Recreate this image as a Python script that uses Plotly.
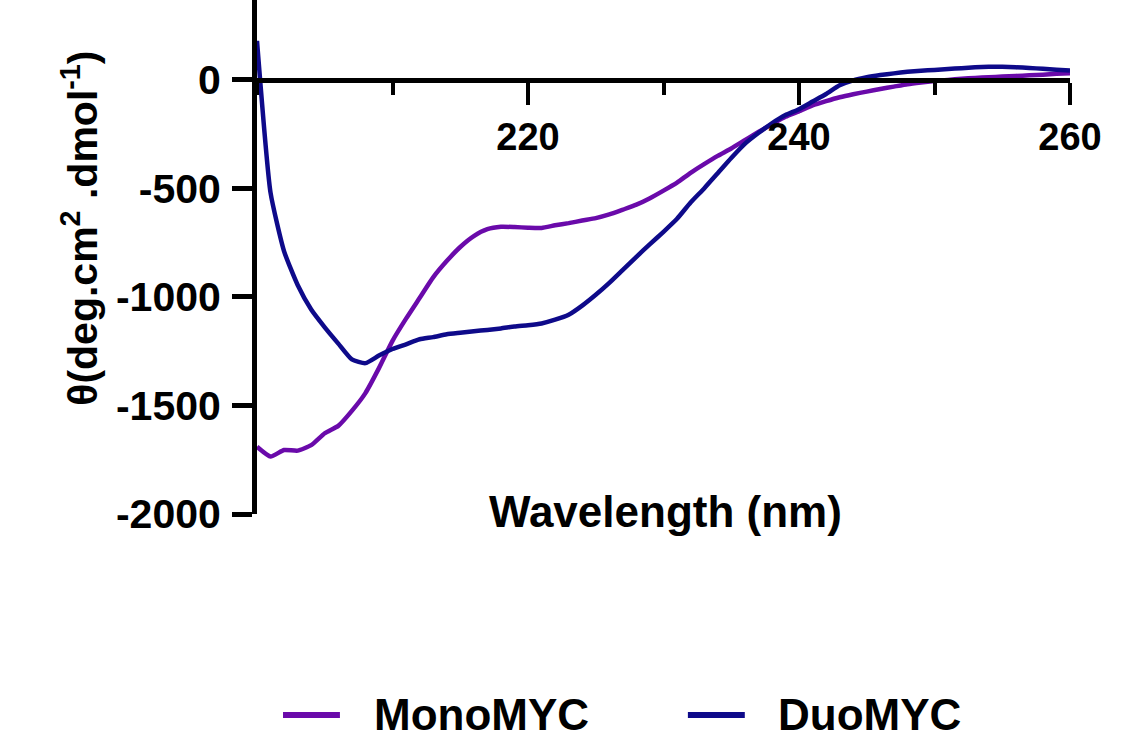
import plotly.graph_objects as go

wavelength = list(range(200, 261))

mono_myc = [
    -1690, -1735, -1705, -1708, -1683, -1628, -1594, -1525, -1443, -1328,
    -1202, -1100, -1005, -910, -835, -770, -720, -688, -677, -678,
    -681, -682, -670, -660, -648, -637, -620, -598, -575, -545,
    -510, -473, -428, -388, -350, -316, -278, -240, -205, -170,
    -145, -118, -98, -80, -66, -54, -42, -31, -20, -12,
    -5, 0, 5, 9, 12, 15, 18, 21, 24, 28,
    31,
]

duo_myc = [
    180, -520, -790, -945, -1058, -1140, -1215, -1288, -1305, -1270,
    -1240, -1218, -1195, -1185, -1172, -1165, -1158, -1152, -1145, -1136,
    -1130, -1122, -1105, -1082, -1040, -990, -935, -875, -815, -757,
    -700, -640, -565, -500, -430, -360, -295, -245, -200, -162,
    -135, -100, -65, -25, -2, 12, 22, 30, 37, 42,
    46, 50, 54, 58, 60, 60, 58, 55, 51, 47,
    43,
]

series_names = ["MonoMYC", "DuoMYC"]
series_colors = ["#6a0aaa", "#0e0a8a"]

x_tickvals = [220, 240, 260]
x_ticktext = ["220", "240", "260"]
y_tickvals = [0, -500, -1000, -1500, -2000]
y_ticktext = ["0", "-500", "-1000", "-1500", "-2000"]

FONT = "Arial, Liberation Sans, sans-serif"

fig = go.Figure()
for name, vals, col in zip(series_names, [mono_myc, duo_myc], series_colors):
    fig.add_trace(go.Scatter(
        x=wavelength, y=vals, mode="lines", name=name,
        line=dict(color=col, width=4.5, shape="spline", smoothing=0.5),
        showlegend=False,
    ))

y_min, y_max = -2000, 368
zero_frac = (0 - y_min) / (y_max - y_min)

# custom legend (line sample + label) below the plot
legend_y = -0.391
legend_line_x = [(0.032, 0.102), (0.530, 0.600)]
legend_text_x = [0.1415, 0.638]
shapes = []
annotations = []
for name, col, (x0, x1), tx in zip(series_names, series_colors, legend_line_x, legend_text_x):
    shapes.append(dict(type="line", xref="paper", yref="paper",
                       x0=x0, x1=x1, y0=legend_y, y1=legend_y,
                       line=dict(color=col, width=6)))
    annotations.append(dict(text=name, xref="paper", yref="paper",
                            x=tx, y=legend_y, xanchor="left", yanchor="middle",
                            showarrow=False,
                            font=dict(size=44, family=FONT, color="black", weight="bold")))

annotations += [
    dict(text="Wavelength (nm)", xref="paper", yref="paper",
         x=0.502, y=0.004, xanchor="center", yanchor="middle",
         showarrow=False,
         font=dict(size=44, family=FONT, color="black", weight="bold")),
    dict(text="θ(deg.cm<sup>2</sup> .dmol<sup>-1</sup>)", xref="paper", yref="paper",
         x=-0.2177, y=0.555, xanchor="center", yanchor="middle",
         textangle=-90, showarrow=False,
         font=dict(size=41, family=FONT, color="black", weight="bold")),
]

fig.update_layout(
    width=1145, height=749,
    margin=dict(l=257, r=75, t=0, b=235, autoexpand=False),
    paper_bgcolor="white", plot_bgcolor="white",
    font=dict(family=FONT, color="black", weight="bold"),
    showlegend=False,
    xaxis=dict(
        range=[200, 260], anchor="free", position=zero_frac,
        automargin=False,
        showline=True, linecolor="black", linewidth=5,
        showgrid=False, zeroline=False,
        tickmode="array", tickvals=x_tickvals, ticktext=x_ticktext,
        ticks="outside", ticklen=22, tickwidth=4, tickcolor="black",
        tickfont=dict(size=38, family=FONT, color="black", weight="bold"),
        ticklabelstandoff=0,
        minor=dict(tickmode="linear", tick0=200, dtick=10, ticks="outside",
                   ticklen=12, tickwidth=4, tickcolor="black", showgrid=False),
    ),
    yaxis=dict(
        range=[y_min, y_max], automargin=False,
        showline=True, linecolor="black", linewidth=5,
        showgrid=False, zeroline=False,
        tickmode="array", tickvals=y_tickvals, ticktext=y_ticktext,
        ticks="outside", ticklen=20, tickwidth=5, tickcolor="black",
        tickfont=dict(size=41, family=FONT, color="black", weight="bold"),
        ticklabelstandoff=3,
    ),
    shapes=shapes,
    annotations=annotations,
)

fig.write_html(
    "out.html",
    config={"displayModeBar": False},
    post_script="document.body.style.margin='0px';document.body.style.overflow='hidden';",
)
